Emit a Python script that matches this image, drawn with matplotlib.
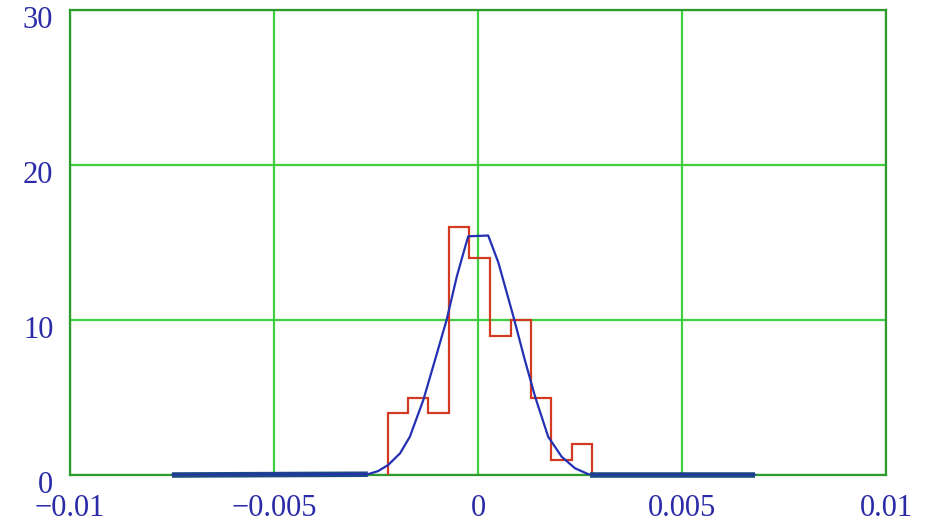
import numpy as np
import matplotlib.pyplot as plt
from matplotlib.ticker import FixedLocator, FixedFormatter
import matplotlib.transforms as mtransforms

# histogram of residuals (bin edges in units of 1e-3)
bin_edges = [-2.2, -1.72, -1.22, -0.71, -0.22, 0.29, 0.8, 1.29, 1.8, 2.3, 2.79]
bin_counts = [4, 5, 4, 16, 14, 9, 10, 5, 1, 2]

# fitted density curve, scaled to counts
curve_x = [-7.5, -2.7, -2.45, -2.2, -1.91, -1.67, -1.34, -1.1, -0.77, -0.52, -0.36,
           -0.24, 0.25, 0.5, 0.87, 1.15, 1.4, 1.72, 2.05, 2.38, 2.75, 6.8]
curve_y = [0, 0.05, 0.25, 0.65, 1.4, 2.47, 4.84, 7.0, 10.0, 12.8, 14.3,
           15.4, 15.45, 13.7, 10.2, 7.4, 5.05, 2.47, 1.18, 0.43, 0, 0]

x_ticks = [-0.01, -0.005, 0, 0.005, 0.01]
x_labels = ["\u22120.01", "\u22120.005", "0", "0.005", "0.01"]
y_ticks = [0, 10, 20, 30]
y_labels = ["0", "10", "20", "30"]

edges = np.array(bin_edges) * 1e-3
cx = np.array(curve_x) * 1e-3
cy = np.array(curve_y)

fig = plt.figure(figsize=(9.33, 5.26), dpi=100)
ax = fig.add_axes([70 / 933, 51 / 526, 816 / 933, 465 / 526])

grid_green = "#3fcf3f"
frame_green = "#2e9a2e"
label_blue = "#2b2ba8"

ax.set_xlim(-0.01, 0.01)
ax.set_ylim(0, 30)
ax.xaxis.set_major_locator(FixedLocator(x_ticks))
ax.xaxis.set_major_formatter(FixedFormatter(x_labels))
ax.yaxis.set_major_locator(FixedLocator(y_ticks))
ax.yaxis.set_major_formatter(FixedFormatter(y_labels))
ax.grid(True, color=grid_green, lw=1.6)
ax.set_axisbelow(True)
for s in ax.spines.values():
    s.set_color(frame_green)
    s.set_linewidth(1.6)

ax.tick_params(length=0, labelsize=22, labelcolor=label_blue)
ax.tick_params(axis="x", pad=14)
ax.tick_params(axis="y", pad=12)
for lab in ax.get_xticklabels() + ax.get_yticklabels():
    lab.set_fontfamily("Liberation Serif")

# nudge y labels slightly downward
offset = mtransforms.ScaledTranslation(0, -7 / 100, fig.dpi_scale_trans)
for lab in ax.get_yticklabels():
    lab.set_transform(lab.get_transform() + offset)

ax.stairs(bin_counts, edges, color="#d23a22", lw=1.6, zorder=3)

# flat tails of the curve drawn heavier along the baseline
left = cx <= -2.7e-3
right = cx >= 2.75e-3
ax.plot(cx[left], cy[left], color="#1d4a7e", lw=4, solid_capstyle="butt",
        clip_on=False, zorder=4)
ax.plot(cx[right], cy[right], color="#1d4a7e", lw=4, solid_capstyle="butt",
        clip_on=False, zorder=4)
ax.plot(cx, cy, color="#2430b4", lw=1.6, zorder=5)

fig.savefig("out.png", dpi=100, facecolor="white")
